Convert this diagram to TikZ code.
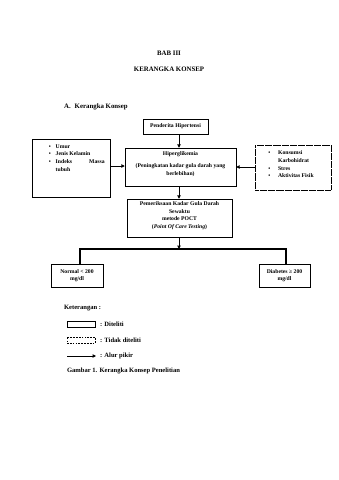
\documentclass[tikz,border=0pt]{standalone}
\usepackage{fontspec}
\setmainfont{Liberation Serif}
\usetikzlibrary{arrows.meta}
\newcommand{\pxu}{1.755pt}
\tikzset{
  x=1.755pt, y=-1.755pt,
  box/.style={draw, line width=0.8pt, inner sep=0pt},
  dotbox/.style={draw, line width=0.8pt, inner sep=0pt, dash pattern=on 1pt off 1pt},
  txt/.style={inner sep=0pt, font=\bfseries\fontsize{10}{13.5}\selectfont, align=center},
  ltxt/.style={inner sep=0pt, font=\bfseries\fontsize{10}{13.5}\selectfont, align=left},
  legtxt/.style={inner sep=0pt, font=\bfseries\fontsize{11.5}{13}\selectfont, anchor=west},
  head/.style={inner sep=0pt, font=\bfseries\fontsize{12}{14}\selectfont},
  arr/.style={line width=1.6pt, -{Triangle[length=6pt,width=6pt]}},
  bline/.style={line width=2pt},
}
\begin{document}
\begin{tikzpicture}
\useasboundingbox (0,0) rectangle (339,480);
% headings
\node[head] (bab) at (169,53) {BAB III};
\node[head] (ker) at (169,69) {KERANGKA KONSEP};
\node[head, anchor=west] (sub) at (64,107) {A.\hspace{7pt}Kerangka Konsep};
% boxes
\node[box, minimum width=65*\pxu, minimum height=15*\pxu] (pen) at (175.5,126.5) {};
\node[txt] (pentxt) at (pen) {Penderita Hipertensi};
\node[box, minimum width=78*\pxu, minimum height=58*\pxu] (left) at (71,168) {};
\node[ltxt, anchor=north west] (lefttxt) at ([shift={(17,4)}]left.north west)
  {\begin{tabular}{@{}p{12pt}@{}p{86pt}@{}}
   \textbullet & Umur\\
   \textbullet & Jenis Kelamin\\
   \textbullet & Indeks\hfill Massa\\
   & tubuh
   \end{tabular}};
\node[box, minimum width=111*\pxu, minimum height=38*\pxu] (hip) at (180.5,167) {};
\node[txt] (hiptxt) at (180.5,164) {Hiperglikemia\\[8pt](Peningkatan kadar gula darah yang\\berlebihan)};
\node[dotbox, minimum width=76*\pxu, minimum height=45*\pxu] (right) at (293,167.5) {};
\node[ltxt, anchor=north west] (righttxt) at ([shift={(13.5,4.5)}]right.north west)
  {\begin{tabular}{@{}p{17pt}@{}l@{}}
   \textbullet & Konsumsi\\
   & Karbohidrat\\
   \textbullet & Stres\\
   \textbullet & Aktivitas Fisik
   \end{tabular}};
\node[box, minimum width=105*\pxu, minimum height=38*\pxu] (pem) at (179.5,218) {};
\node[txt] (pemtxt) at (179.5,215.5) {Pemeriksaan Kadar Gula Darah\\Sewaktu\\metode POCT\\(\textit{Point Of Care Testing})};
\node[box, minimum width=52*\pxu, minimum height=23*\pxu] (norm) at (77,275.5) {};
\node[txt, font=\bfseries\fontsize{10}{12.3}\selectfont] (normtxt) at (norm) {Normal < 200\\mg/dl};
\node[box, minimum width=51*\pxu, minimum height=23*\pxu] (diab) at (284.5,275.5) {};
\node[txt, font=\bfseries\fontsize{10}{12.3}\selectfont] (diabtxt) at (diab) {Diabetes ≥ 200\\mg/dl};
% connectors
\coordinate (ax) at (179,0);
\coordinate (brl) at (80,249);
\coordinate (brr) at (286,249);
\draw[arr] (pen.south -| ax) -- (hip.north -| ax);
\draw[arr] (left.east |- 0,166) -- (hip.west |- 0,166);
\draw[arr] (right.west |- 0,167) -- (hip.east |- 0,167);
\draw[arr] (hip.south -| ax) -- (pem.north -| ax);
\draw[arr] (pem.south -| ax) -- (brl -| ax);
\draw[bline] (norm.north -| brl) -- (brl) -- (brr) -- (diab.north -| brr);
% legend
\node[legtxt] (ket) at (64,308) {Keterangan :};
\node[box, minimum width=28*\pxu, minimum height=6*\pxu] (lg1) at (81,324) {};
\node[legtxt] (lg1t) at (100,324) {: Diteliti};
\node[box, dash pattern=on 3pt off 2pt, minimum width=28*\pxu, minimum height=6*\pxu] (lg2) at (81,340) {};
\node[legtxt] (lg2t) at (100,340) {: Tidak diteliti};
\coordinate (lg3a) at (67,356);
\coordinate (lg3b) at (96,356);
\draw[arr] (lg3a) -- (lg3b);
\node[legtxt] (lg3t) at (100,356) {: Alur pikir};
\node[legtxt] (gam) at (67,371) {Gambar 1. Kerangka Konsep Penelitian};
\end{tikzpicture}
\end{document}
